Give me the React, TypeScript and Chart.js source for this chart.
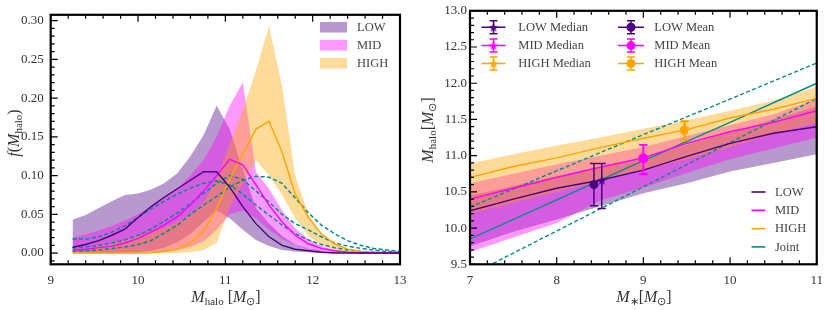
import React, { useEffect, useRef } from 'react';
import { Chart, registerables } from 'chart.js';
Chart.register(...registerables);

const SERIF = '"Liberation Serif", "Times New Roman", serif';

// ---------------- Left panel data ----------------
const haloGrid = [9.25, 9.4, 9.55, 9.7, 9.85, 10.0, 10.15, 10.3, 10.45, 10.6, 10.75, 10.9, 11.05, 11.2, 11.35, 11.5, 11.65, 11.8, 11.95, 12.1, 12.25, 12.4, 12.55, 12.7, 12.85, 13.0];
const lowUpper = [0.043, 0.049, 0.058, 0.067, 0.075, 0.077, 0.082, 0.09, 0.103, 0.125, 0.152, 0.19, 0.16, 0.108, 0.058, 0.038, 0.022, 0.011, 0.006, 0.003, 0.001, 0, 0, 0, 0, 0];
const lowLower = [0, 0, 0, 0, 0, 0.001, 0.003, 0.007, 0.014, 0.025, 0.04, 0.055, 0.045, 0.03, 0.017, 0.009, 0.004, 0.002, 0.001, 0, 0, 0, 0, 0, 0, 0];
const lowMedian = [0.0075, 0.011, 0.016, 0.023, 0.031, 0.046, 0.06, 0.072, 0.083, 0.094, 0.105, 0.105, 0.085, 0.06, 0.038, 0.021, 0.01, 0.005, 0.003, 0.001, 0, 0, 0, 0, 0, 0];
const midUpper = [0.02, 0.024, 0.029, 0.035, 0.042, 0.05, 0.06, 0.071, 0.083, 0.1, 0.12, 0.15, 0.19, 0.22, 0.105, 0.083, 0.055, 0.032, 0.018, 0.009, 0.004, 0.002, 0.001, 0, 0, 0];
const midLower = [0, 0, 0, 0, 0, 0, 0.001, 0.002, 0.004, 0.008, 0.015, 0.03, 0.05, 0.055, 0.045, 0.03, 0.018, 0.01, 0.005, 0.002, 0.001, 0, 0, 0, 0, 0];
const midMedian = [0.0038, 0.005, 0.007, 0.009, 0.013, 0.019, 0.027, 0.036, 0.047, 0.062, 0.08, 0.1, 0.121, 0.114, 0.088, 0.062, 0.04, 0.023, 0.012, 0.006, 0.003, 0.001, 0, 0, 0, 0];
const highUpper = [0.002, 0.005, 0.009, 0.013, 0.017, 0.022, 0.027, 0.033, 0.04, 0.05, 0.065, 0.095, 0.14, 0.185, 0.235, 0.293, 0.215, 0.1, 0.05, 0.025, 0.012, 0.006, 0.003, 0.001, 0, 0];
const highLower = [0, 0, 0, 0, 0, 0, 0, 0, 0, 0.001, 0.004, 0.013, 0.059, 0.09, 0.12, 0.1, 0.075, 0.045, 0.022, 0.01, 0.004, 0.001, 0, 0, 0, 0];
const highMedian = [0, 0, 0, 0, 0, 0, 0.0005, 0.002, 0.005, 0.013, 0.028, 0.058, 0.095, 0.128, 0.16, 0.17, 0.13, 0.076, 0.046, 0.025, 0.012, 0.005, 0.002, 0.001, 0, 0];
const jointLow = [0.018, 0.018, 0.021, 0.027, 0.035, 0.046, 0.057, 0.067, 0.076, 0.084, 0.09, 0.093, 0.088, 0.076, 0.062, 0.049, 0.036, 0.025, 0.017, 0.011, 0.007, 0.004, 0.002, 0.001, 0.0005, 0.0003];
const jointMid = [0.0065, 0.008, 0.01, 0.013, 0.017, 0.023, 0.031, 0.041, 0.052, 0.064, 0.077, 0.09, 0.1, 0.095, 0.08, 0.066, 0.05, 0.038, 0.03, 0.021, 0.013, 0.009, 0.006, 0.004, 0.002, 0.001];
const jointHigh = [0.0025, 0.003, 0.004, 0.006, 0.008, 0.011, 0.016, 0.026, 0.036, 0.05, 0.062, 0.073, 0.085, 0.094, 0.099, 0.098, 0.09, 0.071, 0.052, 0.036, 0.025, 0.016, 0.01, 0.006, 0.004, 0.002];
const leftXTicks = [9, 10, 11, 12, 13];
const leftYTicks = [0, 0.05, 0.1, 0.15, 0.2, 0.25, 0.3];
const leftLegend = ['LOW', 'MID', 'HIGH'];

// ---------------- Right panel data ----------------
const mstarGrid = [7, 7.5, 8, 8.5, 9, 9.5, 10, 10.5, 11];
const lowRelation = [10.24, 10.4, 10.55, 10.66, 10.8, 10.99, 11.17, 11.31, 11.4];
const midRelation = [10.4, 10.55, 10.7, 10.84, 10.97, 11.17, 11.33, 11.46, 11.62];
const highRelation = [10.7, 10.85, 10.97, 11.11, 11.24, 11.36, 11.52, 11.64, 11.79];
const lowBandUpper = [10.45, 10.58, 10.72, 10.85, 10.98, 11.15, 11.32, 11.5, 11.68];
const lowBandLower = [9.75, 9.95, 10.12, 10.3, 10.48, 10.62, 10.78, 10.9, 11.02];
const midBandUpper = [10.62, 10.75, 10.88, 11.0, 11.12, 11.27, 11.42, 11.57, 11.78];
const midBandLower = [9.67, 9.87, 10.07, 10.38, 10.56, 10.76, 10.95, 11.1, 11.25];
const highBandUpper = [10.89, 11.02, 11.14, 11.25, 11.37, 11.49, 11.62, 11.76, 11.95];
const highBandLower = [10.2, 10.35, 10.5, 10.65, 10.8, 10.95, 11.12, 11.3, 11.45];
const jointGrid = [7, 8, 9, 10, 11];
const jointRelation = [9.85, 10.39, 10.93, 11.46, 12.0];
const jointUpper = [10.29, 10.79, 11.29, 11.78, 12.28];
const jointLower = [9.35, 9.96, 10.57, 11.18, 11.79];
// binned points: [x, y, lower, upper]
const lowMedianPt = [8.52, 10.66, 10.27, 10.89];
const lowMeanPt = [8.43, 10.6, 10.31, 10.89];
const midMedianPt = [9.0, 10.98, 10.75, 11.15];
const midMeanPt = [9.0, 10.96, 10.74, 11.15];
const highMedianPt = [9.48, 11.38, 11.22, 11.48];
const highMeanPt = [9.47, 11.35, 11.22, 11.47];
const rightXTicks = [7, 8, 9, 10, 11];
const rightYTicks = [9.5, 10.0, 10.5, 11.0, 11.5, 12.0, 12.5, 13.0];
const pointLegend = ['LOW Median', 'MID Median', 'HIGH Median', 'LOW Mean', 'MID Mean', 'HIGH Mean'];
const lineLegend = ['LOW', 'MID', 'HIGH', 'Joint'];

// ---------------- styles ----------------
const C_LOW = '#4b0082';
const C_MID = '#ff00ff';
const C_HIGH = '#ffa500';
const C_JOINT = '#008b8b';
const F_LOW = 'rgba(75,0,130,0.4)';
const F_MID = 'rgba(255,0,255,0.4)';
const F_HIGH = 'rgba(255,165,0,0.4)';

const pts = (xs: number[], ys: number[]) => xs.map((x, i) => ({ x, y: ys[i] }));

function makeStar(color: string, r: number) {
  const c = document.createElement('canvas');
  const s = Math.ceil(r * 2 + 2);
  c.width = s;
  c.height = s;
  const ctx = c.getContext('2d')!;
  ctx.translate(s / 2, s / 2 + 0.5);
  ctx.beginPath();
  for (let i = 0; i < 10; i++) {
    const rr = i % 2 === 0 ? r : r * 0.42;
    const a = -Math.PI / 2 + (i * Math.PI) / 5;
    ctx.lineTo(rr * Math.cos(a), rr * Math.sin(a));
  }
  ctx.closePath();
  ctx.fillStyle = color;
  ctx.fill();
  return c;
}

type Part = { t: string; f: string; dy?: number };
function drawParts(ctx: CanvasRenderingContext2D, parts: Part[], cx: number, baseline: number) {
  let w = 0;
  parts.forEach((p) => {
    ctx.font = p.f;
    w += ctx.measureText(p.t).width;
  });
  let x = cx - w / 2;
  ctx.textAlign = 'left';
  ctx.textBaseline = 'alphabetic';
  parts.forEach((p) => {
    ctx.font = p.f;
    ctx.fillText(p.t, x, baseline + (p.dy || 0));
    x += ctx.measureText(p.t).width;
  });
}

const MI = `italic 16px ${SERIF}`;
const MR = `16px ${SERIF}`;
const SUB = `11px ${SERIF}`;

function frameTicks(xStepMinor: number, yStepMinor: number, xMajor: number[], yMajor: number[]) {
  return {
    id: 'frameTicks',
    afterDraw(chart: any) {
      const { ctx, chartArea: a, scales } = chart;
      const sx = scales.x;
      const sy = scales.y;
      ctx.save();
      ctx.strokeStyle = '#000';
      ctx.lineWidth = 1.2;
      ctx.beginPath();
      const x0 = xMajor[0], x1 = xMajor[xMajor.length - 1];
      for (let v = x0; v <= x1 + 1e-9; v += xStepMinor) {
        const isMajor = xMajor.some((m) => Math.abs(m - v) < 1e-6);
        const L = isMajor ? 7 : 4;
        const px = sx.getPixelForValue(v);
        ctx.moveTo(px, a.bottom);
        ctx.lineTo(px, a.bottom - L);
        ctx.moveTo(px, a.top);
        ctx.lineTo(px, a.top + L);
      }
      const yMin = sy.min, yMax = sy.max;
      const start = Math.ceil((yMin - 1e-9) / yStepMinor) * yStepMinor;
      for (let v = start; v <= yMax + 1e-9; v += yStepMinor) {
        const isMajor = yMajor.some((m) => Math.abs(m - v) < 1e-6);
        const L = isMajor ? 7 : 4;
        const py = sy.getPixelForValue(v);
        ctx.moveTo(a.left, py);
        ctx.lineTo(a.left + L, py);
      }
      ctx.stroke();
      ctx.lineWidth = 2.2;
      ctx.strokeRect(a.left, a.top, a.right - a.left, a.bottom - a.top);
      ctx.restore();
    },
  };
}

function axisCommon(ticks: number[], fmt: (v: number) => string, isY: boolean, size: number, pad: number) {
  return {
    type: 'linear',
    grid: { display: false, drawTicks: false },
    border: { display: false },
    ticks: {
      font: { family: SERIF, size: 13 },
      color: '#333',
      padding: pad,
      maxRotation: 0,
      autoSkip: false,
      callback: (v: any) => fmt(Number(v)),
    },
    afterBuildTicks: (s: any) => {
      s.ticks = ticks.map((v) => ({ value: v }));
    },
    afterFit: (s: any) => {
      if (isY) s.width = size;
      else s.height = size;
    },
  };
}

function leftConfig(): any {
  const band = (lo: number[], hi: number[], fill: string, order: number) => [
    { data: pts(haloGrid, lo), borderWidth: 0, pointRadius: 0, fill: false, order },
    { data: pts(haloGrid, hi), borderWidth: 0, pointRadius: 0, fill: '-1', backgroundColor: fill, order },
  ];
  const line = (ys: number[], color: string, dashed = false) => ({
    data: pts(haloGrid, ys),
    borderColor: color,
    borderWidth: dashed ? 1.5 : 1.4,
    borderDash: dashed ? [4, 2.5] : [],
    pointRadius: 0,
    fill: false,
    order: dashed ? 0 : -1,
  });
  const legendPlugin = {
    id: 'leftDeco',
    afterDraw(chart: any) {
      const ctx = chart.ctx;
      ctx.save();
      const fills = [F_LOW, F_MID, F_HIGH];
      const rows = [27, 45, 63];
      leftLegend.forEach((t, i) => {
        ctx.fillStyle = fills[i];
        ctx.fillRect(320, rows[i] - 5, 27, 10.5);
        ctx.fillStyle = '#444';
        ctx.font = `12.5px ${SERIF}`;
        ctx.textAlign = 'left';
        ctx.textBaseline = 'middle';
        ctx.fillText(t, 357, rows[i] + 0.5);
      });
      ctx.fillStyle = '#333';
      drawParts(ctx, [
        { t: 'M', f: MI },
        { t: 'halo', f: SUB, dy: 3 },
        { t: ' [', f: MR },
        { t: 'M', f: MI },
        { t: '\u2299', f: SUB, dy: 3 },
        { t: ']', f: MR },
      ], 226, 302);
      ctx.translate(14, 133);
      ctx.rotate(-Math.PI / 2);
      drawParts(ctx, [
        { t: 'f', f: MI },
        { t: '(', f: MR },
        { t: 'M', f: MI },
        { t: 'halo', f: SUB, dy: 3 },
        { t: ')', f: MR },
      ], 0, 5);
      ctx.restore();
    },
  };
  return {
    type: 'line',
    data: {
      datasets: [
        ...band(lowLower, lowUpper, F_LOW, 3),
        ...band(midLower, midUpper, F_MID, 2),
        ...band(highLower, highUpper, F_HIGH, 1),
        line(lowMedian, C_LOW),
        line(midMedian, C_MID),
        line(highMedian, C_HIGH),
        line(jointLow, C_JOINT, true),
        line(jointMid, C_JOINT, true),
        line(jointHigh, C_JOINT, true),
      ],
    },
    options: {
      animation: false,
      responsive: false,
      devicePixelRatio: 1,
      layout: { padding: { top: 10, right: 15, left: 0, bottom: 0 } },
      scales: {
        x: { ...axisCommon(leftXTicks, (v) => String(v), false, 45.7, 8), min: 9, max: 13 },
        y: { ...axisCommon(leftYTicks, (v) => v.toFixed(2), true, 50.7, 7), min: -0.0145, max: 0.3075 },
      },
      plugins: {
        legend: { display: false },
        tooltip: { enabled: false },
        filler: { propagate: false, drawTime: 'beforeDatasetsDraw' },
      },
    },
    plugins: [frameTicks(0.2, 0.01, leftXTicks, leftYTicks), legendPlugin],
  };
}

function rightConfig(): any {
  const band = (lo: number[], hi: number[], fill: string, order: number) => [
    { data: pts(mstarGrid, lo), borderWidth: 0, pointRadius: 0, fill: false, order },
    { data: pts(mstarGrid, hi), borderWidth: 0, pointRadius: 0, fill: '-1', backgroundColor: fill, order },
  ];
  const line = (xs: number[], ys: number[], color: string, dashed = false) => ({
    data: pts(xs, ys),
    borderColor: color,
    borderWidth: 1.4,
    borderDash: dashed ? [4, 2.5] : [],
    pointRadius: 0,
    fill: false,
    order: 0,
  });
  const stars = {
    low: makeStar(C_LOW, 5),
    mid: makeStar(C_MID, 5),
    high: makeStar(C_HIGH, 5),
  };
  const marker = (p: number[], color: string, style: any, r: number, order: number) => ({
    data: [{ x: p[0], y: p[1] }],
    showLine: false,
    pointStyle: style,
    pointRadius: r,
    pointBackgroundColor: color,
    pointBorderColor: color,
    pointBorderWidth: 0,
    fill: false,
    order,
  });
  const errPts: [number[], string][] = [
    [lowMedianPt, C_LOW],
    [lowMeanPt, C_LOW],
    [midMedianPt, C_MID],
    [midMeanPt, C_MID],
    [highMedianPt, C_HIGH],
    [highMeanPt, C_HIGH],
  ];
  const errPlugin = {
    id: 'errbars',
    afterDatasetsDraw(chart: any) {
      const { ctx, scales } = chart;
      ctx.save();
      ctx.lineWidth = 1.5;
      errPts.forEach(([p, c]) => {
        const px = scales.x.getPixelForValue(p[0]);
        const lo = scales.y.getPixelForValue(p[2]);
        const hi = scales.y.getPixelForValue(p[3]);
        ctx.strokeStyle = c;
        ctx.beginPath();
        ctx.moveTo(px, lo);
        ctx.lineTo(px, hi);
        ctx.moveTo(px - 4, lo);
        ctx.lineTo(px + 4, lo);
        ctx.moveTo(px - 4, hi);
        ctx.lineTo(px + 4, hi);
        ctx.stroke();
      });
      ctx.restore();
    },
  };
  const decoPlugin = {
    id: 'rightDeco',
    afterDraw(chart: any) {
      const ctx = chart.ctx;
      ctx.save();
      const rows = [27.3, 45.6, 63.5];
      const cols = [{ l: 66.5, r: 90.5, m: 78.5, t: 103.3 }, { l: 203, r: 229, m: 216, t: 239.3 }];
      const colors = [C_LOW, C_MID, C_HIGH];
      const starImgs = [stars.low, stars.mid, stars.high];
      pointLegend.forEach((t, i) => {
        const col = cols[Math.floor(i / 3)];
        const row = rows[i % 3];
        const c = colors[i % 3];
        ctx.strokeStyle = c;
        ctx.lineWidth = 1.5;
        ctx.beginPath();
        ctx.moveTo(col.l, row);
        ctx.lineTo(col.r, row);
        ctx.moveTo(col.m, row - 6.5);
        ctx.lineTo(col.m, row + 6.5);
        ctx.moveTo(col.m - 4, row - 6.5);
        ctx.lineTo(col.m + 4, row - 6.5);
        ctx.moveTo(col.m - 4, row + 6.5);
        ctx.lineTo(col.m + 4, row + 6.5);
        ctx.stroke();
        if (i < 3) {
          const im = starImgs[i];
          ctx.drawImage(im, col.m - im.width / 2, row - im.height / 2);
        } else {
          ctx.fillStyle = c;
          ctx.beginPath();
          ctx.arc(col.m, row, 4.5, 0, Math.PI * 2);
          ctx.fill();
        }
        ctx.fillStyle = '#444';
        ctx.font = `12.5px ${SERIF}`;
        ctx.textAlign = 'left';
        ctx.textBaseline = 'middle';
        ctx.fillText(t, col.t, row + 0.5);
      });
      const lrows = [192, 210.3, 228.6, 246.9];
      const lcolors = [C_LOW, C_MID, C_HIGH, C_JOINT];
      lineLegend.forEach((t, i) => {
        ctx.strokeStyle = lcolors[i];
        ctx.lineWidth = 1.6;
        ctx.beginPath();
        ctx.moveTo(336.5, lrows[i]);
        ctx.lineTo(350.5, lrows[i]);
        ctx.stroke();
        ctx.fillStyle = '#444';
        ctx.font = `12.5px ${SERIF}`;
        ctx.textAlign = 'left';
        ctx.textBaseline = 'middle';
        ctx.fillText(t, 360, lrows[i] + 0.5);
      });
      ctx.fillStyle = '#333';
      drawParts(ctx, [
        { t: 'M', f: MI },
        { t: '\u2217', f: SUB, dy: 3 },
        { t: '[', f: MR },
        { t: 'M', f: MI },
        { t: '\u2299', f: SUB, dy: 3 },
        { t: ']', f: MR },
      ], 229, 302);
      ctx.translate(13, 130);
      ctx.rotate(-Math.PI / 2);
      drawParts(ctx, [
        { t: 'M', f: MI },
        { t: 'halo', f: SUB, dy: 3 },
        { t: '[', f: MR },
        { t: 'M', f: MI },
        { t: '\u2299', f: SUB, dy: 3 },
        { t: ']', f: MR },
      ], 0, 5);
      ctx.restore();
    },
  };
  return {
    type: 'line',
    data: {
      datasets: [
        ...band(lowBandLower, lowBandUpper, F_LOW, 3),
        ...band(midBandLower, midBandUpper, F_MID, 2),
        ...band(highBandLower, highBandUpper, F_HIGH, 1),
        line(mstarGrid, lowRelation, C_LOW),
        line(mstarGrid, midRelation, C_MID),
        line(mstarGrid, highRelation, C_HIGH),
        line(jointGrid, jointRelation, C_JOINT),
        line(jointGrid, jointUpper, C_JOINT, true),
        line(jointGrid, jointLower, C_JOINT, true),
        marker(lowMedianPt, C_LOW, stars.low, 5, -1),
        marker(midMedianPt, C_MID, stars.mid, 5, -1),
        marker(highMedianPt, C_HIGH, stars.high, 5, -1),
        marker(lowMeanPt, C_LOW, 'circle', 4.5, -2),
        marker(midMeanPt, C_MID, 'circle', 5, -2),
        marker(highMeanPt, C_HIGH, 'circle', 4.5, -2),
      ],
    },
    options: {
      animation: false,
      responsive: false,
      devicePixelRatio: 1,
      layout: { padding: { top: 10, right: 12, left: 0, bottom: 0 } },
      scales: {
        x: { ...axisCommon(rightXTicks, (v) => String(v), false, 45.7, 8), min: 7, max: 11 },
        y: { ...axisCommon(rightYTicks, (v) => v.toFixed(1), true, 55, 3), min: 9.5, max: 13.0 },
      },
      plugins: {
        legend: { display: false },
        tooltip: { enabled: false },
        filler: { propagate: false, drawTime: 'beforeDatasetsDraw' },
      },
    },
    plugins: [errPlugin, frameTicks(0.2, 0.1, rightXTicks, rightYTicks), decoPlugin],
  };
}

export default function App() {
  const leftRef = useRef<HTMLCanvasElement>(null);
  const rightRef = useRef<HTMLCanvasElement>(null);
  useEffect(() => {
    const c1 = new Chart(leftRef.current as HTMLCanvasElement, leftConfig());
    const c2 = new Chart(rightRef.current as HTMLCanvasElement, rightConfig());
    return () => {
      c1.destroy();
      c2.destroy();
    };
  }, []);
  return (
    <div style={{ position: 'fixed', left: 0, top: 0, width: 831, height: 310, background: '#fff' }}>
      <canvas ref={leftRef} width={415} height={310} style={{ position: 'absolute', left: 0, top: 0 }} />
      <canvas ref={rightRef} width={416} height={310} style={{ position: 'absolute', left: 415, top: 0 }} />
    </div>
  );
}
